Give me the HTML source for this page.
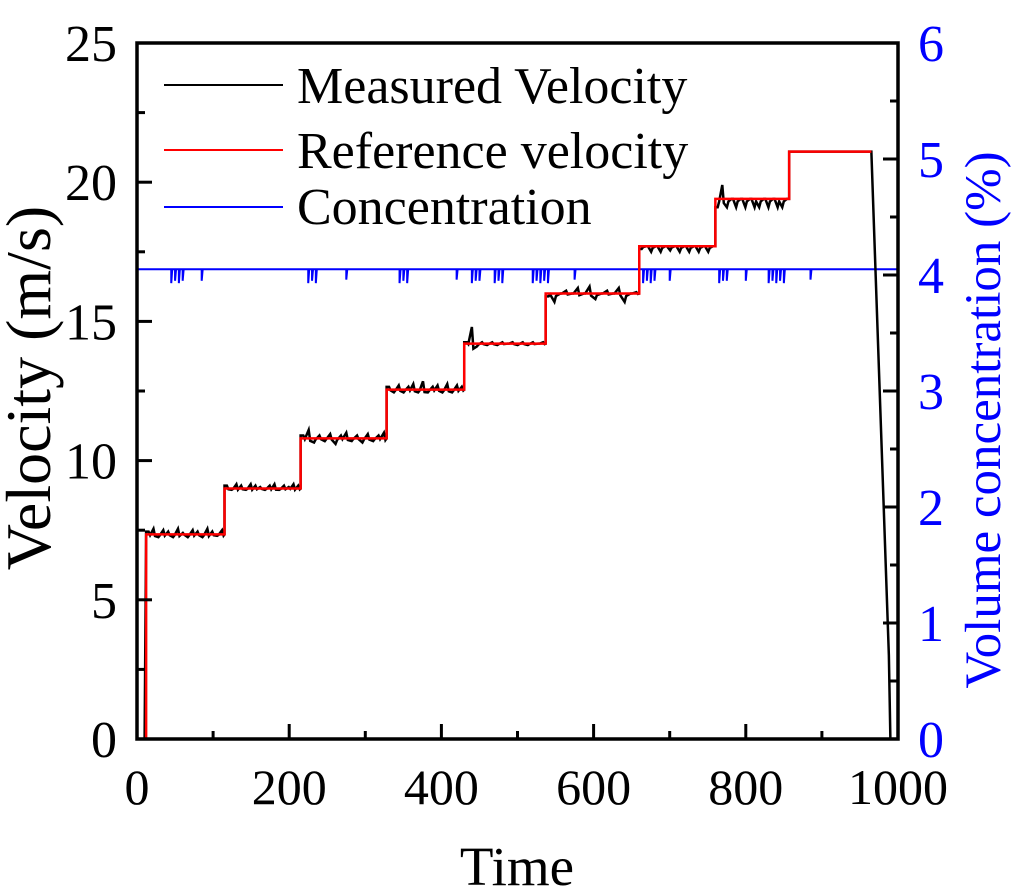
<!DOCTYPE html>
<html><head><meta charset="utf-8"><style>
body{margin:0;background:#fff}
svg{display:block}
text{font-family:"Liberation Serif",serif}
</style></head><body>
<svg id="chart" width="1024" height="895" viewBox="0 0 1024 895" xmlns="http://www.w3.org/2000/svg">
<g id="marks"></g>
<g id="axes"></g>
<g id="legend">
 <line x1="164" y1="85" x2="283" y2="85" stroke="#000" stroke-width="2"/>
 <text x="297" y="103" font-size="52">Measured Velocity</text>
 <line x1="164" y1="150" x2="283" y2="150" stroke="#f00" stroke-width="2"/>
 <text x="297" y="168" font-size="52">Reference velocity</text>
 <line x1="164" y1="207" x2="283" y2="207" stroke="#00f" stroke-width="2"/>
 <text x="297" y="224" font-size="52">Concentration</text>
</g>
<text x="517" y="885" font-size="55" text-anchor="middle">Time</text>
<text transform="translate(50,388) rotate(-90)" font-size="64" text-anchor="middle">Velocity (m/s)</text>
<text transform="translate(1000,420) rotate(-90)" font-size="51" text-anchor="middle" fill="#00f">Volume concentration (%)</text>
</svg>
<script>
const stepTimes=[0,12,115,215,328,430,537,660,760,857,965];
const refValues=[0,7.35,9.0,10.8,12.55,14.2,16.0,17.7,19.4,21.1];
const noise=[
 [0],
 [0.1,0.2,-0.1,0.15,0.1,-0.1,0.2,0.05,-0.1,0.15,0.1,-0.1,0.2,0.1,-0.05,0.15],
 [0.1,-0.05,0.15,0.1,-0.05,0.15,0.1,0.05,-0.05,0.1,0.15,-0.05,0.1,0.05,0.15,0.1],
 [0.1,0.3,-0.15,0.1,-0.1,0.15,-0.2,0.1,0.2,-0.1,0.1,-0.15,0.15,-0.1,0.1,0.2],
 [0.1,-0.1,0.15,-0.1,0.1,0.2,-0.1,0.3,-0.1,0.1,0.15,-0.1,0.2,-0.1,0.15,0.1],
 [0.05,0.6,-0.1,0.05,-0.05,0.05,-0.05,0.05,0,0.05,-0.05,0.05,-0.05,0.05,0,0.05],
 [-0.1,-0.3,0,0.1,0,0.2,0,0.25,-0.2,0,0.1,0,0.2,-0.3,0,0.05],
 [-0.1,0,-0.2,0,-0.2,0,-0.15,0,-0.2,0,-0.2,0,-0.2,0,-0.2,0],
 [-0.3,0.5,-0.3,0,-0.3,0,-0.3,0,-0.3,-0.3,0,-0.3,0,-0.3,-0.3,0],
 [0,0,0,0,0,0,0,0,0,0]
];
const endTimes=[965,988,990];
const endValues=[21.1,3,0];
const concBase=4.05;
const concSpikeTimes=[45,50,55,60,85,225,230,235,275,345,350,355,420,440,445,450,470,475,480,520,525,530,535,540,575,665,670,675,680,700,765,770,775,800,830,835,840,845,850,885];
const concSpikeValues=[3.93,3.95,3.93,3.95,3.95,3.93,3.95,3.93,3.96,3.93,3.95,3.93,3.96,3.93,3.95,3.95,3.93,3.95,3.93,3.93,3.95,3.93,3.95,3.93,3.96,3.93,3.95,3.93,3.95,3.95,3.93,3.95,3.95,3.95,3.93,3.95,3.93,3.95,3.93,3.96];
const xTicks=[0,200,400,600,800,1000];
const yTicks=[0,5,10,15,20,25];
const y2Ticks=[0,1,2,3,4,5,6];

const X0=137,X1=898,Y0=739,Y1=43;
const xs=t=>X0+(t/1000)*(X1-X0);
const ys=v=>Y0-(v/25)*(Y0-Y1);
const y2s=v=>Y0-(v/6)*(Y0-Y1);
const NS='http://www.w3.org/2000/svg';
const marks=document.getElementById('marks'),axes=document.getElementById('axes');
function mk(tag,attrs,parent){const e=document.createElementNS(NS,tag);for(const k in attrs)e.setAttribute(k,attrs[k]);parent.appendChild(e);return e;}

let cd=`M${xs(0)},${y2s(concBase)}`;
concSpikeTimes.forEach((t,i)=>{cd+=` L${xs(t)},${y2s(concBase)} L${xs(t)},${y2s(concSpikeValues[i])} L${xs(t)+1},${y2s(concBase)}`;});
cd+=` L${xs(1000)},${y2s(concBase)}`;
const conc=mk('path',{d:cd,fill:'none',stroke:'#00f','stroke-width':2},marks);



let md=`M${xs(0)},${ys(0)} L${xs(stepTimes[1]-2)},${ys(0)}`;
for(let i=1;i<refValues.length;i++){
  const a=stepTimes[i],b=stepTimes[i+1],n=noise[i];
  md+=` L${xs(a)},${ys(refValues[i]+n[0])}`;
  n.forEach((d,j)=>{const t=a+(b-a)*(j+0.5)/n.length;md+=` L${xs(t)},${ys(refValues[i]+d)} L${xs(t+2)},${ys(refValues[i]-Math.abs(d)*0.3)}`;});
  md+=` L${xs(b)},${ys(refValues[i])}`;
}
endTimes.forEach((t,i)=>{md+=` L${xs(t)},${ys(endValues[i])}`;});
const meas=mk('path',{d:md,fill:'none',stroke:'#000','stroke-width':2.5},marks);



let rd=`M${xs(0)},${ys(refValues[0])}`;
for(let i=1;i<refValues.length;i++){rd+=` L${xs(stepTimes[i])},${ys(refValues[i-1])} L${xs(stepTimes[i])},${ys(refValues[i])}`;}
rd+=` L${xs(stepTimes[stepTimes.length-1])},${ys(refValues[refValues.length-1])}`;
const ref=mk('path',{d:rd,fill:'none',stroke:'#f00','stroke-width':2.5},marks);



const fr=mk('rect',{x:X0,y:Y1,width:X1-X0,height:Y0-Y1,fill:'none',stroke:'#000','stroke-width':3.5},axes);



xTicks.forEach((v,i)=>{
  const x=xs(v);
  const t=mk('line',{x1:x,y1:Y0,x2:x,y2:Y0-15,stroke:'#000','stroke-width':3},axes);
  
  
  if(i<xTicks.length-1){const xm=xs(v+100);const m=mk('line',{x1:xm,y1:Y0,x2:xm,y2:Y0-8,stroke:'#000','stroke-width':3},axes);
  
  }
  const l=mk('text',{x:x,y:804,'font-size':50,'text-anchor':'middle'},axes);l.textContent=v;
  
  
});
yTicks.forEach((v,i)=>{
  const y=ys(v);
  const t=mk('line',{x1:X0,y1:y,x2:X0+15,y2:y,stroke:'#000','stroke-width':3},axes);
  
  
  if(i<yTicks.length-1){const ym=ys(v+2.5);const m=mk('line',{x1:X0,y1:ym,x2:X0+8,y2:ym,stroke:'#000','stroke-width':3},axes);
  
  }
  const l=mk('text',{x:117,y:y+18,'font-size':52,'text-anchor':'end'},axes);l.textContent=v;
  
  
});
y2Ticks.forEach((v,i)=>{
  const y=y2s(v);
  const t=mk('line',{x1:X1,y1:y,x2:X1-15,y2:y,stroke:'#000','stroke-width':3},axes);
  
  
  if(i<y2Ticks.length-1){const ym=y2s(v+0.5);const m=mk('line',{x1:X1,y1:ym,x2:X1-8,y2:ym,stroke:'#000','stroke-width':3},axes);
  
  }
  const l=mk('text',{x:918,y:y+18,'font-size':52,fill:'#00f'},axes);l.textContent=v;
  
  
});
</script>
</body></html>
